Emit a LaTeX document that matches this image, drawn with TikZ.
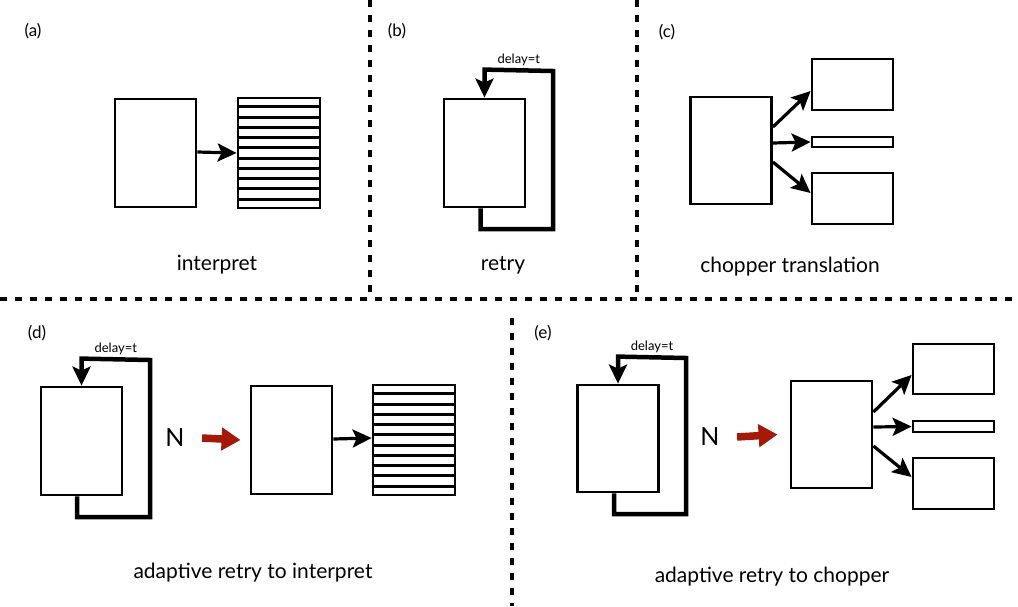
\documentclass[tikz,border=0pt]{standalone}
\usepackage{fontspec}
\setmainfont{Lato}
\usepackage{xcolor}
\usetikzlibrary{arrows.meta,positioning,calc}
\definecolor{darkred}{RGB}{165,25,8}

\begin{document}
\begin{tikzpicture}[x=1pt,y=-1pt,line join=miter,
  box/.style={draw,line width=2.8pt,inner sep=0pt,minimum width=81pt,minimum height=108pt},
  piece/.style={draw,line width=2.8pt,inner sep=0pt,minimum width=81pt,minimum height=51pt},
  thin/.style={draw,line width=2.8pt,inner sep=0pt,minimum width=81pt,minimum height=10pt},
  stackbox/.style={draw,line width=2.8pt,inner sep=0pt,minimum width=82pt,minimum height=110pt},
  arr/.style={line width=3.2pt,-{Stealth[length=19pt,width=18pt,inset=4pt]}},
  loopline/.style={line width=4.5pt,-{Stealth[length=19pt,width=18pt,inset=4pt]}},
  redarr/.style={line width=7.5pt,darkred,-{Triangle[length=19pt,width=22pt]}},
  sep/.style={line width=3.2pt,dash pattern=on 7pt off 8pt},
  tag/.style={font=\fontsize{17}{17}\selectfont},
  caption/.style={anchor=base,font=\fontsize{21}{21}\selectfont},
  dlabel/.style={anchor=base,yshift=7pt,font=\fontsize{13}{13}\selectfont},
  nlbl/.style={font=\fontsize{25}{25}\selectfont}]
\useasboundingbox (0,0) rectangle (1018,606);

% separators
\draw[sep] (0,299) -- (1018,299);
\draw[sep] (370,0) -- (370,299);
\draw[sep] (637,0) -- (637,299);
\draw[sep] (512,318) -- (512,606);

% (a) interpret
\node[tag] (ta) at (33,31) {(a)};
\node[box] (aA) at (155.5,153) {};
\node[stackbox] (aS) at (279,153) {};
\foreach \i in {1,...,10}
  \draw[line width=2.8pt] ($(aS.north west)!\i/11!(aS.south west)$) -- ($(aS.north east)!\i/11!(aS.south east)$);
\draw[arr] ([yshift=1pt]aA.east) -- (aS.west);
\node[caption] (ca) at (217,270) {interpret};

% (b) retry
\node[tag] (tb) at (397,31) {(b)};
\node[box] (bB) at (484.5,153) {};
\draw[loopline] ([xshift=-4pt]bB.south) |- (553,229) -- (553,71)
  -- node[dlabel] {delay=t} ([yshift=28pt]bB.north) -- (bB.north);
\node[caption] (cb) at (503,270) {retry};

% (c) chopper translation
\node[tag] (tc) at (667,32) {(c)};
\node[box,minimum height=107pt] (cB) at (731,150.5) {};
\node[piece] (cT) at (852.5,84.5) {};
\node[thin] (cM) at (852.5,142) {};
\node[piece] (cL) at (852.5,198.5) {};
\draw[arr] ([yshift=23.5pt]cB.east) -- ([yshift=-6.5pt]cT.west);
\draw[arr] ([yshift=7.5pt]cB.east) -- (cM.west);
\draw[arr] ([yshift=-11.5pt]cB.east) -- ([yshift=5.5pt]cL.west);
\node[caption] (cc) at (790,272) {chopper translation};

% (d) adaptive retry to interpret
\node[tag] (td) at (37,333) {(d)};
\node[box] (dR) at (81.5,441) {};
\draw[loopline] ([xshift=-4.5pt]dR.south) |- (150,517) -- (150,360)
  -- node[dlabel] {delay=t} ([yshift=27pt]dR.north) -- (dR.north);
\node[nlbl] (nD) at (175,438) {N};
\node[box] (dA) at (291.5,440) {};
\draw[redarr] ([xshift=14pt]nD.east) -- ([xshift=-9pt]dA.west);
\node[stackbox] (dS) at (414,440) {};
\foreach \i in {1,...,10}
  \draw[line width=2.8pt] ($(dS.north west)!\i/11!(dS.south west)$) -- ($(dS.north east)!\i/11!(dS.south east)$);
\draw[arr] ([yshift=1pt]dA.east) -- ([yshift=2pt]dS.west);
\node[caption] (cd) at (253,578) {adaptive retry to interpret};

% (e) adaptive retry to chopper
\node[tag] (te) at (543,333) {(e)};
\node[box,minimum height=107pt] (eR) at (618,438.5) {};
\draw[loopline] ([xshift=-4pt]eR.south) |- (686,514) -- (686,358)
  -- node[dlabel] {delay=t} ([yshift=27pt]eR.north) -- (eR.north);
\node[nlbl] (nE) at (710,437) {N};
\node[box,minimum height=107pt] (eB) at (831.5,434.5) {};
\draw[redarr] ([xshift=14pt]nE.east) -- ([xshift=-12pt]eB.west);
\node[piece,minimum height=50pt] (eT) at (953.5,369) {};
\node[thin,minimum height=11pt] (eM) at (953.5,426.5) {};
\node[piece] (eL) at (953.5,483.5) {};
\draw[arr] ([yshift=22.5pt]eB.east) -- ([yshift=-6pt]eT.west);
\draw[arr] ([yshift=7.5pt]eB.east) -- (eM.west);
\draw[arr] ([yshift=-11.5pt]eB.east) -- ([yshift=6.5pt]eL.west);
\node[caption] (ce) at (772,582) {adaptive retry to chopper};
\end{tikzpicture}
\end{document}
